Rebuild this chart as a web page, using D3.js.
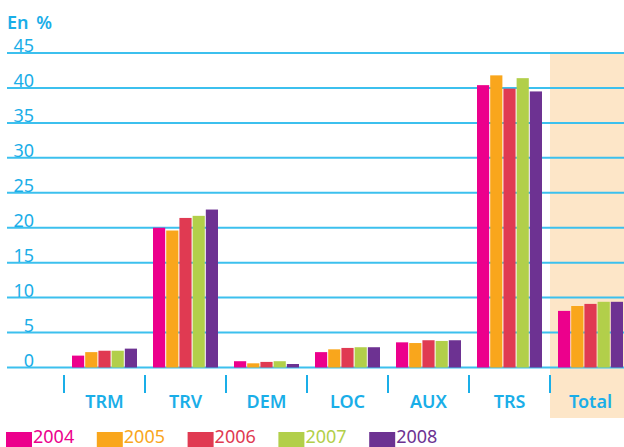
<!DOCTYPE html>
<html>
<head>
<meta charset="utf-8">
<script src="https://cdn.jsdelivr.net/npm/d3@7"></script>
<style>
  body { margin: 0; background: #fff; }
  svg { display: block; font-family: "Noto Sans", "Open Sans", sans-serif; }
</style>
</head>
<body>
<div id="chart"></div>
<script>
const categories = ['TRM', 'TRV', 'DEM', 'LOC', 'AUX', 'TRS', 'Total']
const years = ['2004', '2005', '2006', '2007', '2008']
const colors = ['#ec008c', '#f9a61c', '#e03a52', '#b2cf4a', '#6d3292']
const values2004 = [1.7, 20.0, 0.9, 2.2, 3.6, 40.4, 8.1]
const values2005 = [2.2, 19.6, 0.6, 2.6, 3.5, 41.8, 8.8]
const values2006 = [2.4, 21.4, 0.8, 2.8, 3.9, 39.9, 9.1]
const values2007 = [2.4, 21.7, 0.9, 2.9, 3.8, 41.4, 9.4]
const values2008 = [2.7, 22.6, 0.5, 2.9, 3.9, 39.5, 9.4]
const yTicks = [0, 5, 10, 15, 20, 25, 30, 35, 40, 45]

const series = [values2004, values2005, values2006, values2007, values2008]
const data = categories.map((c, i) => ({
    cat: c,
    vals: years.map((yr, j) => ({ year: yr, value: series[j][i], color: colors[j] }))
}))

const width = 624, height = 447
const blue = '#1aaee8'

const svg = d3.select('#chart').append('svg')
    .attr('width', width)
    .attr('height', height)

const x0 = d3.scaleBand().domain(categories).range([64, 631])
const x1 = d3.scaleBand().domain(years).range([8, 73]).paddingInner(0.077)
const y = d3.scaleLinear().domain([0, 45]).range([367.5, 53])

// shaded total column
svg.append('rect')
    .attr('x', x0('Total'))
    .attr('y', y(45))
    .attr('width', width - x0('Total'))
    .attr('height', 418 - y(45))
    .attr('fill', '#fde6c8')

// gridlines + labels
const grid = svg.append('g')
grid.selectAll('line')
    .data(yTicks)
    .join('line')
    .attr('x1', 7)
    .attr('x2', width)
    .attr('y1', d => y(d))
    .attr('y2', d => y(d))
    .attr('stroke', '#3cc0ee')
    .attr('stroke-width', 2)

grid.selectAll('text')
    .data(yTicks)
    .join('text')
    .attr('x', 34)
    .attr('y', d => y(d) - 1)
    .attr('text-anchor', 'end')
    .attr('fill', blue)
    .style('font-size', '18px')
    .text(d => d)

svg.append('text')
    .attr('x', 7)
    .attr('y', 29)
    .attr('fill', blue)
    .style('font-size', '18px')
    .style('font-weight', 600)
    .style('word-spacing', '3px')
    .text('En %')

// bars
const groups = svg.append('g').selectAll('g')
    .data(data)
    .join('g')
    .attr('transform', d => `translate(${x0(d.cat)},0)`)

groups.selectAll('rect')
    .data(d => d.vals)
    .join('rect')
    .attr('x', d => x1(d.year))
    .attr('width', x1.bandwidth())
    .attr('y', d => y(d.value))
    .attr('height', d => y(0) - y(d.value))
    .attr('fill', d => d.color)

// category separators and labels
svg.append('g').selectAll('line')
    .data(categories)
    .join('line')
    .attr('x1', d => x0(d))
    .attr('x2', d => x0(d))
    .attr('y1', 375)
    .attr('y2', 393)
    .attr('stroke', blue)
    .attr('stroke-width', 2)

svg.append('g').selectAll('text')
    .data(categories)
    .join('text')
    .attr('x', d => x0(d) + x0.bandwidth() / 2)
    .attr('y', 408)
    .attr('text-anchor', 'middle')
    .attr('fill', blue)
    .style('font-size', '18px')
    .style('font-weight', 600)
    .text(d => d)

// legend
const legend = svg.append('g').selectAll('g')
    .data(years)
    .join('g')
    .attr('transform', (d, i) => `translate(${6 + i * 90.8}, 0)`)

legend.append('rect')
    .attr('x', 0)
    .attr('y', 432)
    .attr('width', 26)
    .attr('height', 15)
    .attr('fill', (d, i) => colors[i])

legend.append('text')
    .attr('x', 27)
    .attr('y', 443)
    .attr('fill', (d, i) => colors[i])
    .style('font-size', '18px')
    .text(d => d)
</script>
</body>
</html>
